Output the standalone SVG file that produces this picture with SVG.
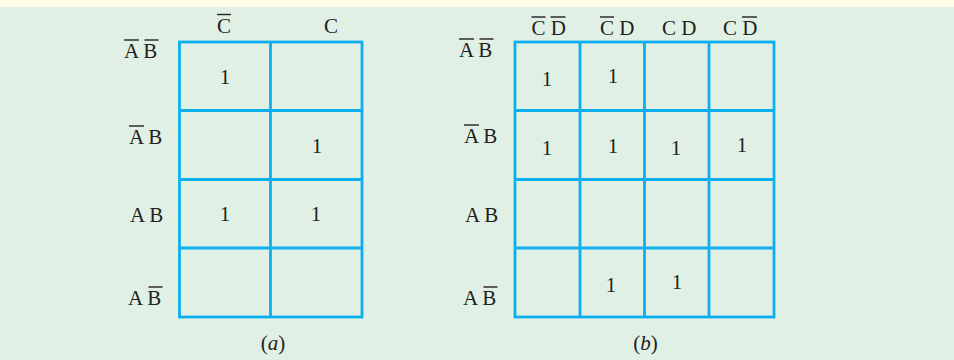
<svg xmlns="http://www.w3.org/2000/svg" width="954" height="360" viewBox="0 0 954 360">
<style>
.t{font-family:"Liberation Serif","Times New Roman",serif;font-size:21px;fill:#231f20}
.one{text-anchor:middle}
.g{fill:none;stroke:#0daeef;stroke-width:2.8}
.bar{stroke:#231f20;stroke-width:1.4}
</style>
<rect x="0" y="0" width="954" height="360" fill="#e1f0e5"/>
<rect x="0" y="0" width="954" height="7" fill="#fffce8"/>

<g id="map-a">
  <g id="grid-a" class="g">
    <rect x="179.5" y="42" width="182.5" height="275"/>
    <line x1="270.5" y1="42" x2="270.5" y2="317"/>
    <line x1="179.5" y1="110.5" x2="362" y2="110.5"/>
    <line x1="179.5" y1="179.5" x2="362" y2="179.5"/>
    <line x1="179.5" y1="248" x2="362" y2="248"/>
  </g>
  <g id="a-cols">
    <text class="t" x="217" y="33">C</text>
    <line class="bar" x1="217" y1="14.5" x2="231" y2="14.5"/>
    <text class="t" x="324" y="33">C</text>
  </g>
  <g id="a-rows">
    <text class="t" x="124" y="58">A B</text>
    <line class="bar" x1="124" y1="40" x2="139" y2="40"/>
    <line class="bar" x1="144.5" y1="40" x2="158.5" y2="40"/>
    <text class="t" x="129" y="144">A B</text>
    <line class="bar" x1="129" y1="126" x2="144" y2="126"/>
    <text class="t" x="130" y="222">A B</text>
    <text class="t" x="128" y="305">A B</text>
    <line class="bar" x1="148.5" y1="287" x2="162.5" y2="287"/>
  </g>
  <g id="a-cells">
    <text class="t one" x="225" y="84">1</text>
    <text class="t one" x="317" y="153">1</text>
    <text class="t one" x="225" y="221">1</text>
    <text class="t one" x="316" y="221">1</text>
  </g>
  <text id="caption-a" class="t one" x="273" y="350">(<tspan font-style="italic">a</tspan>)</text>
</g>

<g id="map-b">
  <g id="grid-b" class="g">
    <rect x="515" y="42" width="259" height="275"/>
    <line x1="580" y1="42" x2="580" y2="317"/>
    <line x1="644.5" y1="42" x2="644.5" y2="317"/>
    <line x1="709" y1="42" x2="709" y2="317"/>
    <line x1="515" y1="110.5" x2="774" y2="110.5"/>
    <line x1="515" y1="179.5" x2="774" y2="179.5"/>
    <line x1="515" y1="248" x2="774" y2="248"/>
  </g>
  <g id="b-cols">
    <text class="t" x="531.5" y="35">C D</text>
    <line class="bar" x1="531.5" y1="17" x2="545.5" y2="17"/>
    <line class="bar" x1="550.5" y1="17" x2="565.5" y2="17"/>
    <text class="t" x="600" y="35">C D</text>
    <line class="bar" x1="600" y1="17" x2="614" y2="17"/>
    <text class="t" x="662" y="35">C D</text>
    <text class="t" x="723" y="35">C D</text>
    <line class="bar" x1="742" y1="17" x2="757" y2="17"/>
  </g>
  <g id="b-rows">
    <text class="t" x="459" y="57">A B</text>
    <line class="bar" x1="459" y1="39" x2="474" y2="39"/>
    <line class="bar" x1="479.5" y1="39" x2="493.5" y2="39"/>
    <text class="t" x="464" y="143">A B</text>
    <line class="bar" x1="464" y1="125" x2="479" y2="125"/>
    <text class="t" x="465" y="222">A B</text>
    <text class="t" x="463" y="305">A B</text>
    <line class="bar" x1="483.5" y1="287" x2="497.5" y2="287"/>
  </g>
  <g id="b-cells">
    <text class="t one" x="547" y="86">1</text>
    <text class="t one" x="613" y="83">1</text>
    <text class="t one" x="547" y="155">1</text>
    <text class="t one" x="613" y="153">1</text>
    <text class="t one" x="676" y="155">1</text>
    <text class="t one" x="742" y="152">1</text>
    <text class="t one" x="611" y="292">1</text>
    <text class="t one" x="677" y="289">1</text>
  </g>
  <text id="caption-b" class="t one" x="645.5" y="350">(<tspan font-style="italic">b</tspan>)</text>
</g>

<g id="connectors"/>
</svg>
